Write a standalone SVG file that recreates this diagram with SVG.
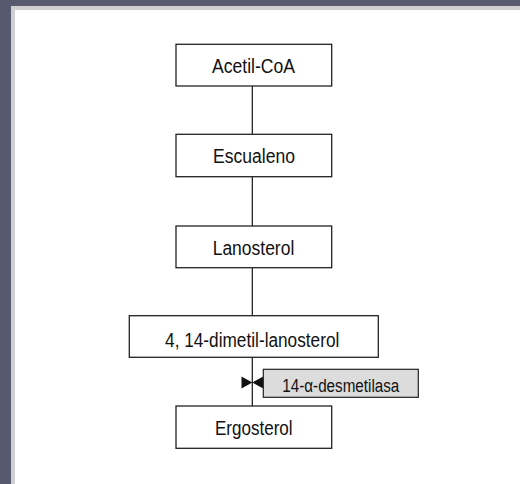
<svg xmlns="http://www.w3.org/2000/svg" width="520" height="484" viewBox="0 0 520 484">
<style>
.box{fill:#fff;stroke:#222;stroke-width:1.3}
.enz{fill:#dcdcdc;stroke:#222;stroke-width:1.2}
.t{font-family:"Liberation Sans",Arial,sans-serif;font-size:20px;fill:#111;text-anchor:middle}
.s{font-family:"Liberation Sans",Arial,sans-serif;font-size:18px;fill:#111;text-anchor:middle}
.c{stroke:#111;stroke-width:1.2;fill:none}
</style>
<rect x="0" y="0" width="520" height="484" fill="#575a6e"/>
<rect x="11" y="6" width="509" height="478" fill="#cfcfd2"/>
<rect x="15" y="10" width="505" height="474" fill="#fff"/>
<g id="connectors">
<line class="c" x1="252.3" y1="86" x2="252.3" y2="134"/>
<line class="c" x1="252.3" y1="177" x2="252.3" y2="226"/>
<line class="c" x1="252.3" y1="268" x2="252.3" y2="316"/>
<line class="c" x1="252.3" y1="357" x2="252.3" y2="406"/>
<polygon points="241.5,376.5 252.3,382.5 241.5,388.5" fill="#111"/>
<polygon points="263.3,376.5 252.3,382.5 263.3,388.5" fill="#111"/>
</g>
<g id="acetilcoa">
<rect class="box" x="176" y="44.3" width="155.7" height="41.7"/>
<text class="t" x="253.5" y="73" textLength="83" lengthAdjust="spacingAndGlyphs">Acetil-CoA</text>
</g>
<g id="escualeno">
<rect class="box" x="176" y="134.3" width="155.7" height="42.4"/>
<text class="t" x="254" y="163.3" textLength="82" lengthAdjust="spacingAndGlyphs">Escualeno</text>
</g>
<g id="lanosterol">
<rect class="box" x="176" y="226" width="155.7" height="41.7"/>
<text class="t" x="253.5" y="255" textLength="81.6" lengthAdjust="spacingAndGlyphs">Lanosterol</text>
</g>
<g id="dimetil">
<rect class="box" x="129.3" y="315.7" width="249" height="41.6"/>
<text class="t" x="252.2" y="346.7" textLength="174.3" lengthAdjust="spacingAndGlyphs">4, 14-dimetil-lanosterol</text>
</g>
<g id="enzima">
<rect class="enz" x="263.3" y="369.3" width="155" height="28"/>
<text class="s" x="340.8" y="391.5" textLength="117" lengthAdjust="spacingAndGlyphs">14-α-desmetilasa</text>
</g>
<g id="ergosterol">
<rect class="box" x="176" y="406" width="155.7" height="42.3"/>
<text class="t" x="253.8" y="435" textLength="77.7" lengthAdjust="spacingAndGlyphs">Ergosterol</text>
</g>
</svg>
